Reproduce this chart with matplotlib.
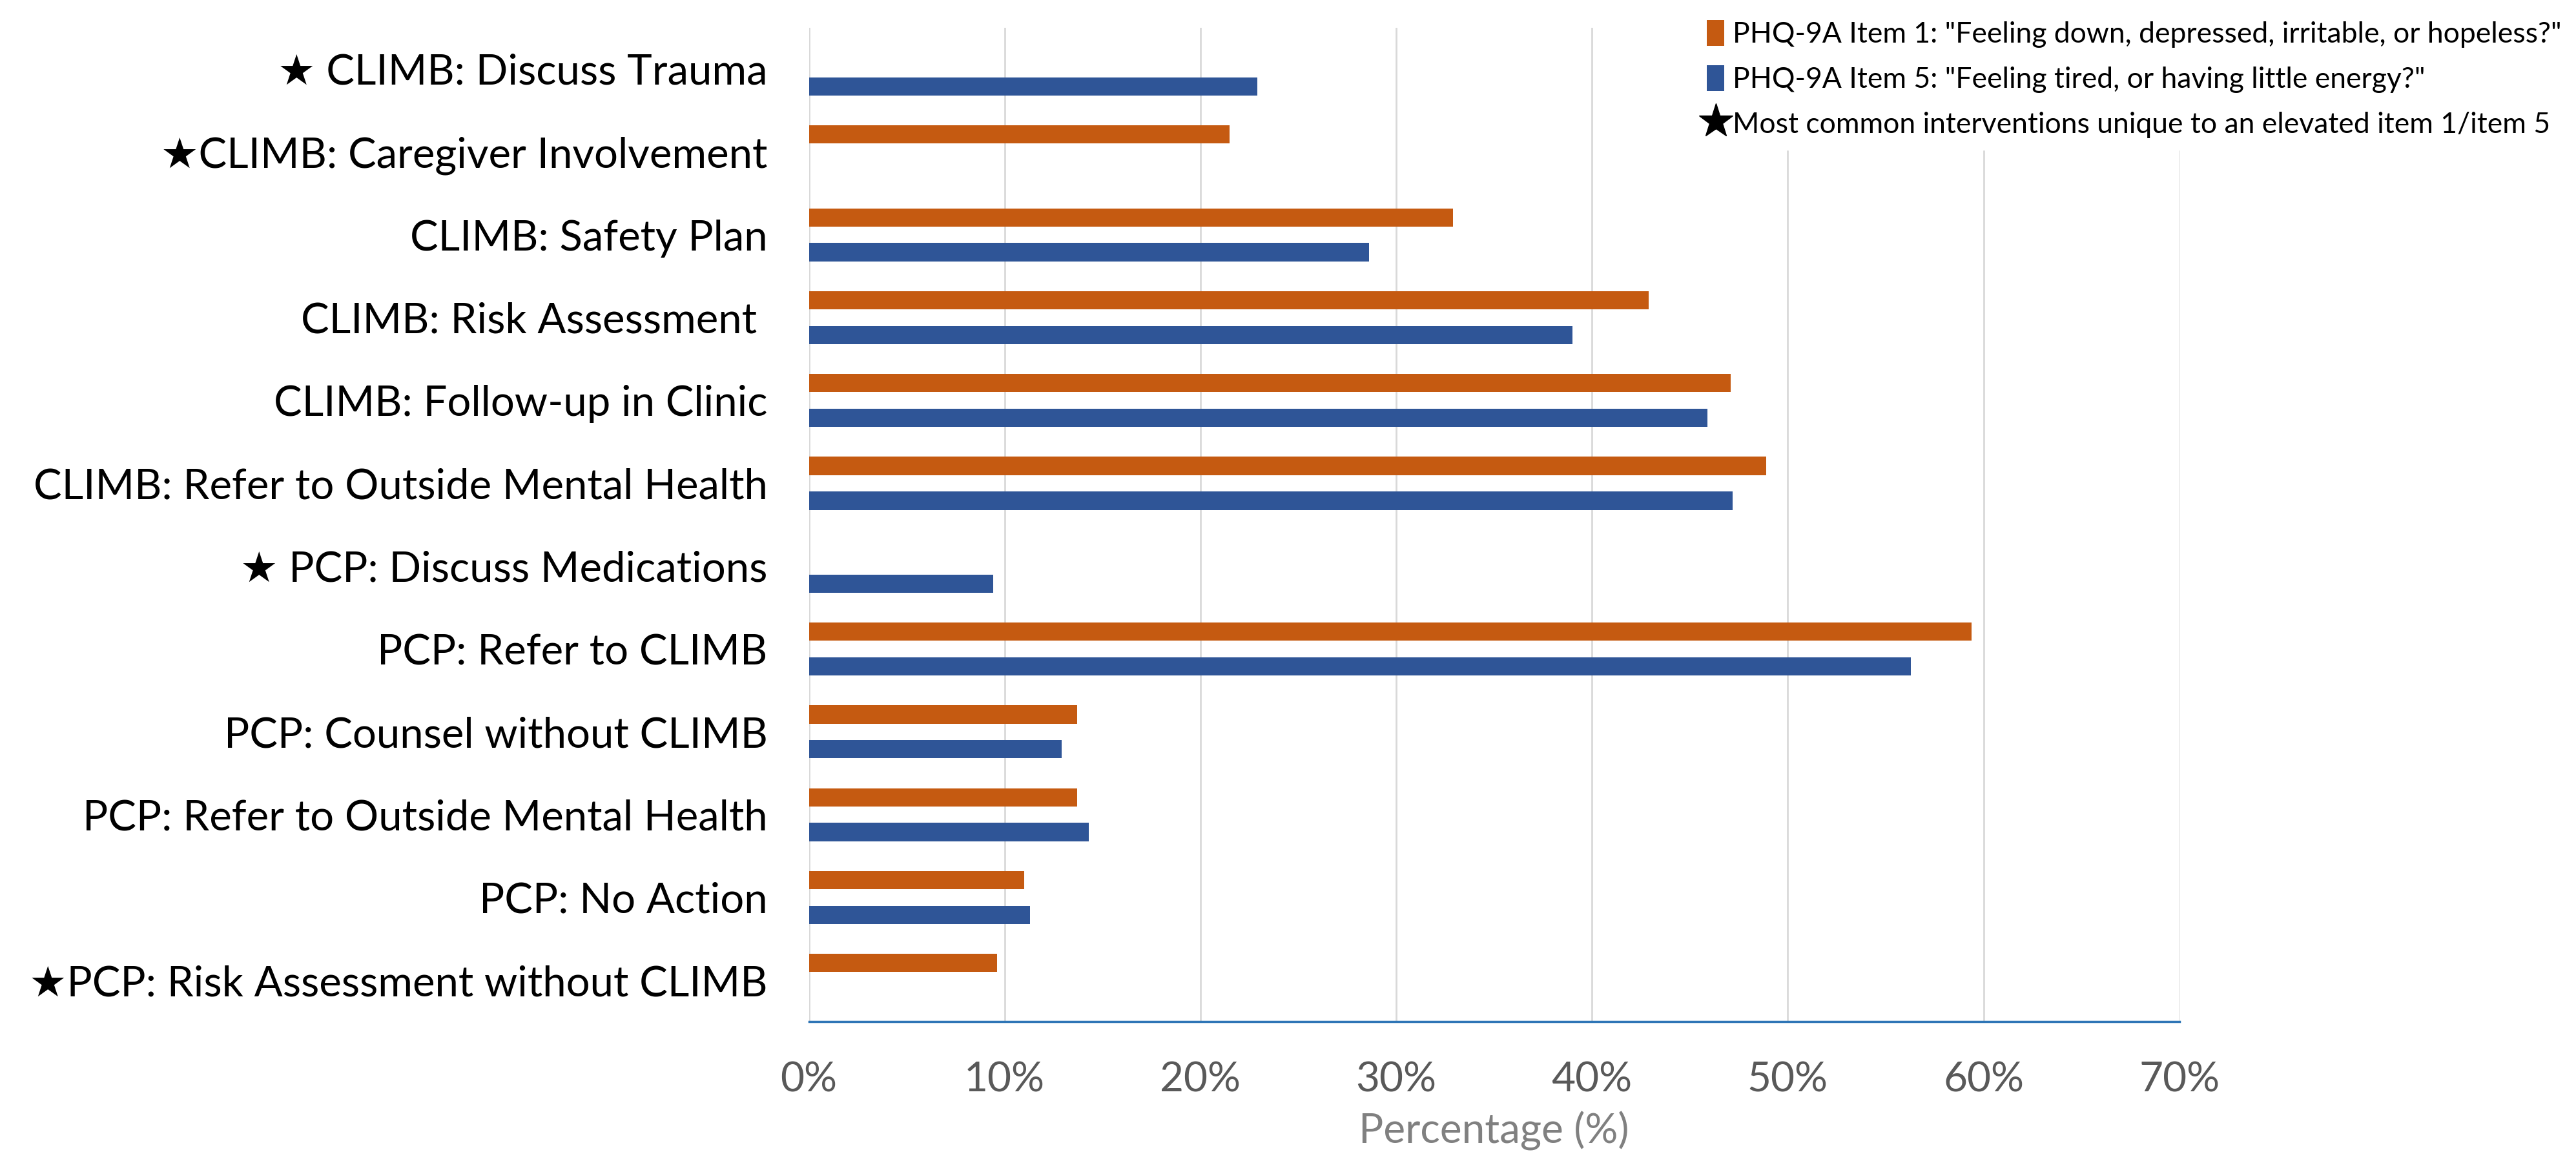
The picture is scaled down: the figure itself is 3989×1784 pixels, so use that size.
import numpy as np
import matplotlib.pyplot as plt
from matplotlib.patches import Patch
from matplotlib.lines import Line2D

plt.rcParams['font.family'] = ['Lato', 'DejaVu Sans']

categories = [
    "\u2605 CLIMB: Discuss Trauma",
    "\u2605CLIMB: Caregiver Involvement",
    "CLIMB: Safety Plan",
    "CLIMB: Risk Assessment ",
    "CLIMB: Follow-up in Clinic",
    "CLIMB: Refer to Outside Mental Health",
    "\u2605 PCP: Discuss Medications",
    "PCP: Refer to CLIMB",
    "PCP: Counsel without CLIMB",
    "PCP: Refer to Outside Mental Health",
    "PCP: No Action",
    "\u2605PCP: Risk Assessment without CLIMB",
]
# percentages (0 = no bar)
item1 = [0, 21.5, 32.9, 42.9, 47.1, 48.9, 0, 59.4, 13.7, 13.7, 11.0, 9.6]
item5 = [22.9, 0, 28.6, 39.0, 45.9, 47.2, 9.4, 56.3, 12.9, 14.3, 11.3, 0]
xticks = [0, 10, 20, 30, 40, 50, 60, 70]

orange = '#C55A11'
blue = '#2F5597'

fig = plt.figure(figsize=(39.89, 17.84), dpi=100)
ax = fig.add_axes([0.314, 0.113, 0.532, 0.863])

y = np.arange(len(categories))
ax.barh(y - 0.21, item1, height=0.22, color=orange, zorder=3)
ax.barh(y + 0.21, item5, height=0.22, color=blue, zorder=3)

ax.set_ylim(len(categories) - 0.5, -0.5)
ax.set_yticks(y)
ax.set_yticklabels(categories, fontsize=47, color='black')
ax.tick_params(axis='y', length=0, pad=46)

ax.set_xlim(0, 70)
ax.set_xticks(xticks)
ax.set_xticklabels([f"{t}%" for t in xticks], fontsize=46, color='#595959')
ax.tick_params(axis='x', length=0, pad=44)
ax.grid(axis='x', color='#D9D9D9', linewidth=2, zorder=0)
ax.set_axisbelow(True)
ax.set_xlabel("Percentage (%)", fontsize=46, color='#808080', labelpad=14)

for s in ['top', 'right', 'left']:
    ax.spines[s].set_visible(False)
ax.spines['bottom'].set_color('#2E75B6')
ax.spines['bottom'].set_linewidth(2.5)

handles = [
    Patch(facecolor=orange),
    Patch(facecolor=blue),
    Line2D([], [], marker='*', color='black', linestyle='none', markersize=40),
]
labels = [
    'PHQ-9A Item 1: "Feeling down, depressed, irritable, or hopeless?"',
    'PHQ-9A Item 5: "Feeling tired, or having little energy?"',
    'Most common interventions unique to an elevated item 1/item 5',
]
leg = fig.legend(handles, labels, loc='upper right', bbox_to_anchor=(1.0, 0.995),
                 fontsize=32, frameon=True, edgecolor='white', framealpha=1,
                 handlelength=0.6, handleheight=1.0, handletextpad=0.3,
                 labelspacing=0.6, borderaxespad=0.1)

fig.savefig('out.png', dpi=100)
